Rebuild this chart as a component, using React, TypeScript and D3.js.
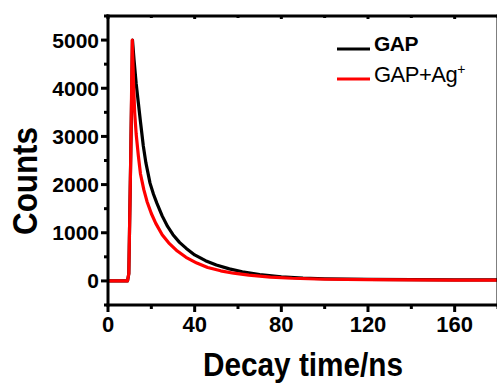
import React, { useEffect, useRef } from 'react';
import * as d3 from 'd3';

// Decay time (ns) and counts
const gapTime = [0, 9, 9.6, 10.5, 11.3, 12, 13, 14, 15, 16.3, 17.5, 19.4, 21, 22.5, 25, 27.5, 30, 33, 36, 40, 45, 50, 56, 62, 70, 80, 90, 100, 120, 140, 160, 180];
const gapCounts = [0, 0, 150, 2600, 5000, 4600, 4100, 3700, 3300, 2800, 2450, 2030, 1800, 1620, 1350, 1130, 960, 800, 680, 540, 420, 330, 250, 190, 130, 85, 60, 45, 30, 25, 20, 20];

const agTime = [0, 9, 9.6, 10.5, 11.2, 11.8, 12.3, 13, 14, 15, 16.5, 18, 20, 22, 25, 28, 32, 36, 41, 46, 52, 58, 65, 75, 85, 100, 120, 140, 160, 180];
const agCounts = [0, 0, 150, 2600, 5000, 4100, 3500, 3050, 2600, 2220, 1900, 1650, 1400, 1200, 960, 790, 620, 490, 370, 280, 210, 160, 120, 80, 55, 35, 25, 20, 18, 15];

const xTicks = [0, 40, 80, 120, 160];
const xMinor = [20, 60, 100, 140, 180];
const yTicks = [0, 1000, 2000, 3000, 4000, 5000];
const yMinor = [-500, 500, 1500, 2500, 3500, 4500, 5500];

const seriesNames = ['GAP', 'GAP+Ag'];

const DecayChart = () => {
  const ref = useRef<SVGSVGElement>(null);

  useEffect(() => {
    const svg = d3.select(ref.current);
    svg.selectAll('*').remove();

    const left = 108, right = 498, top = 16, bottom = 305;
    const x = d3.scaleLinear().domain([0, 180]).range([left, right]);
    const y = d3.scaleLinear().domain([-500, 5500]).range([bottom, top]);
    const font = 'Liberation Sans, Arial, sans-serif';

    // curves
    const line = d3.line<[number, number]>().x(d => x(d[0])).y(d => y(d[1]));
    const series = [
      { t: gapTime, c: gapCounts, color: '#000' },
      { t: agTime, c: agCounts, color: '#ff0000' },
    ];
    series.forEach(s => {
      svg.append('path')
        .attr('d', line(s.t.map((t, i) => [t, s.c[i]] as [number, number])))
        .attr('fill', 'none')
        .attr('stroke', s.color)
        .attr('stroke-width', 3.2)
        .attr('stroke-linejoin', 'round');
    });

    // frame
    const frame = svg.append('g').attr('stroke', '#000').attr('stroke-width', 3).attr('stroke-linecap', 'square');
    frame.append('line').attr('x1', left).attr('x2', left).attr('y1', top).attr('y2', bottom);
    frame.append('line').attr('x1', left).attr('x2', right).attr('y1', bottom).attr('y2', bottom);
    frame.append('line').attr('x1', left).attr('x2', right).attr('y1', top).attr('y2', top);
    frame.append('line').attr('x1', right).attr('x2', right).attr('y1', top).attr('y2', bottom);

    // y ticks
    yTicks.forEach(v => {
      frame.append('line').attr('x1', left - 7).attr('x2', left).attr('y1', y(v)).attr('y2', y(v)).attr('stroke-linecap', 'butt');
      svg.append('text').attr('x', left - 9).attr('y', y(v)).attr('dy', '0.36em')
        .attr('text-anchor', 'end').attr('font-family', font).attr('font-weight', 'bold')
        .attr('font-size', 21).text(v);
    });
    yMinor.forEach(v => {
      frame.append('line').attr('x1', left - 4).attr('x2', left).attr('y1', y(v)).attr('y2', y(v)).attr('stroke-linecap', 'butt');
    });

    // x ticks (bottom outward, top inward)
    xTicks.forEach(v => {
      frame.append('line').attr('x1', x(v)).attr('x2', x(v)).attr('y1', bottom).attr('y2', bottom + 7).attr('stroke-linecap', 'butt');
      frame.append('line').attr('x1', x(v)).attr('x2', x(v)).attr('y1', top).attr('y2', top + 3).attr('stroke-linecap', 'butt');
      svg.append('text').attr('x', x(v)).attr('y', 332)
        .attr('text-anchor', 'middle').attr('font-family', font).attr('font-weight', 'bold')
        .attr('font-size', 22).text(v);
    });
    xMinor.forEach(v => {
      frame.append('line').attr('x1', x(v)).attr('x2', x(v)).attr('y1', bottom).attr('y2', bottom + 4).attr('stroke-linecap', 'butt');
      frame.append('line').attr('x1', x(v)).attr('x2', x(v)).attr('y1', top).attr('y2', top + 2).attr('stroke-linecap', 'butt');
    });

    // axis titles
    svg.append('text').attr('x', 303).attr('y', 376)
      .attr('text-anchor', 'middle').attr('font-family', font).attr('font-weight', 'bold')
      .attr('font-size', 34).attr('textLength', 200).attr('lengthAdjust', 'spacingAndGlyphs')
      .text('Decay time/ns');
    svg.append('text').attr('transform', 'translate(37,181) rotate(-90)')
      .attr('text-anchor', 'middle').attr('font-family', font).attr('font-weight', 'bold')
      .attr('font-size', 35).attr('textLength', 108).attr('lengthAdjust', 'spacingAndGlyphs')
      .text('Counts');

    // legend
    const lg = svg.append('g');
    lg.append('line').attr('x1', 337).attr('x2', 370).attr('y1', 49).attr('y2', 49)
      .attr('stroke', '#000').attr('stroke-width', 3);
    lg.append('text').attr('x', 374).attr('y', 50.5).attr('font-family', font)
      .attr('font-weight', 'bold').attr('font-size', 21).attr('letter-spacing', -0.5).text(seriesNames[0]);
    lg.append('line').attr('x1', 337).attr('x2', 370).attr('y1', 79).attr('y2', 79)
      .attr('stroke', '#ff0000').attr('stroke-width', 3);
    const t2 = lg.append('text').attr('x', 374).attr('y', 82).attr('font-family', font)
      .attr('font-size', 22).attr('letter-spacing', -0.5);
    t2.append('tspan').text(seriesNames[1]);
    t2.append('tspan').attr('dy', -8).attr('font-size', 14).text('+');
  }, []);

  return <svg ref={ref} width={497} height={383} style={{ position: 'absolute', left: 0, top: 0, background: '#fff' }} />;
};

export default function App() {
  return <DecayChart />;
}
